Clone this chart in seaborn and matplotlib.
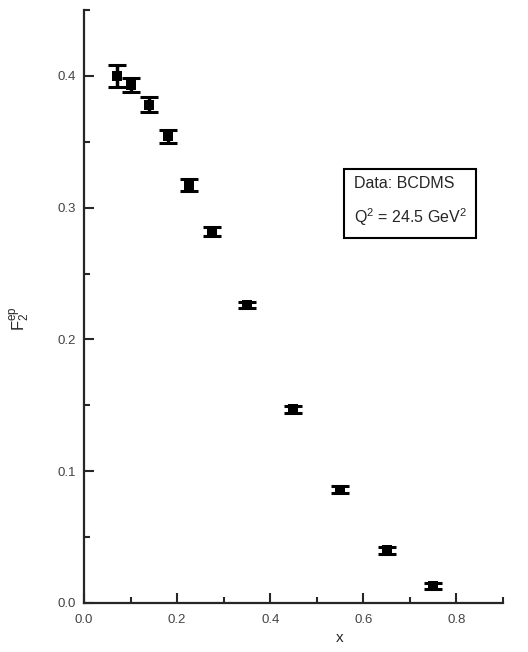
import matplotlib
matplotlib.use("Agg")
import matplotlib.pyplot as plt
import seaborn as sns
import pandas as pd
from matplotlib.ticker import MultipleLocator

# Data (BCDMS, Q^2 = 24.5 GeV^2)
x_vals = [0.07, 0.10, 0.14, 0.18, 0.225, 0.275, 0.35, 0.45, 0.55, 0.65, 0.75]
f2_vals = [0.400, 0.393, 0.378, 0.354, 0.317, 0.282, 0.226, 0.147, 0.086, 0.040, 0.013]
f2_err = [0.0083, 0.0055, 0.0058, 0.0050, 0.0045, 0.0035, 0.0025, 0.0025, 0.0028, 0.0025, 0.0025]
x_ticks = [0.0, 0.2, 0.4, 0.6, 0.8]
y_ticks = [0.0, 0.1, 0.2, 0.3, 0.4]

df = pd.DataFrame({"x": x_vals, "F2": f2_vals, "err": f2_err})

sns.set_style("ticks")
plt.rcParams["font.family"] = ["Liberation Sans", "DejaVu Sans"]
plt.rcParams["mathtext.default"] = "regular"

fig = plt.figure(figsize=(5.28, 6.52), dpi=100)
ax = fig.add_axes([0.159, 0.0752, 0.7937, 0.9095])

ax.errorbar(df["x"], df["F2"], yerr=df["err"], fmt="none", ecolor="black",
            elinewidth=2.5, capsize=6.5, capthick=2.2, zorder=2)
sns.scatterplot(data=df, x="x", y="F2", ax=ax, marker="s", s=50,
                color="black", edgecolor="black", linewidth=0, zorder=3)

ax.set_xlim(0, 0.9)
ax.set_ylim(0, 0.45)
ax.set_xticks(x_ticks)
ax.set_yticks(y_ticks)
ax.set_xticklabels([f"{v:.1f}" for v in x_ticks])
ax.set_yticklabels([f"{v:.1f}" for v in y_ticks])
ax.xaxis.set_minor_locator(MultipleLocator(0.1))
ax.yaxis.set_minor_locator(MultipleLocator(0.05))
ax.tick_params(which="major", direction="in", length=7, width=1.5,
               labelsize=9.5, labelcolor="#444444")
ax.tick_params(which="minor", direction="in", length=4, width=1.5)
ax.tick_params(axis="x", which="major", pad=8)
ax.tick_params(axis="y", which="major", pad=6)

sns.despine(ax=ax)
for s in ["left", "bottom"]:
    ax.spines[s].set_linewidth(1.6)

ax.set_xlabel("x", fontsize=11)
ax.set_ylabel(r"$F_2^{ep}$", fontsize=12)
ax.xaxis.set_label_coords(0.61, -0.048)
ax.yaxis.set_label_coords(-0.125, 0.48)

ax.text(0.778, 0.676, "Data: BCDMS\nQ$^2$ = 24.5 GeV$^2$",
        transform=ax.transAxes, ha="center", va="center",
        multialignment="left", fontsize=11.5, linespacing=1.9,
        bbox=dict(boxstyle="square,pad=0.6", facecolor="white",
                  edgecolor="black", linewidth=1.5))

fig.savefig("out.png", dpi=100)
